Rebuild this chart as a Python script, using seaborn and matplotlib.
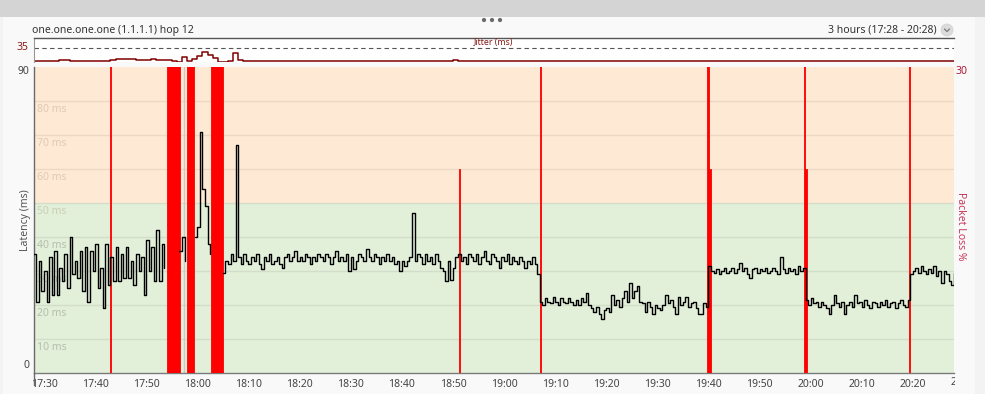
import numpy as np
import pandas as pd
import matplotlib
matplotlib.use("Agg")
import matplotlib.pyplot as plt
from matplotlib.patches import Rectangle, Ellipse
from matplotlib.lines import Line2D
from matplotlib.transforms import Bbox, blended_transform_factory
import seaborn as sns

# ------------------------------------------------------------------ data
# time axis: minutes after 17:28, latency samples every 0.5 min
SAMPLE_MIN = 0.5
X_MAX = 180
LAT_MAX = 90
LOSS_MAX = 30
ZONE_SPLIT = 50

seg_a_start = 0.0
seg_a = [35, 21, 33, 24, 30, 21, 34, 23, 36, 23, 31, 27, 35, 25, 40, 29, 33, 28, 36, 24,
         37, 21, 36, 30, 38, 25, 31, 19, 38, 26, 34, 27, 37, 27, 35, 28, 37, 28, 33, 26,
         35, 30, 34, 23, 39, 30, 37, 27, 42, 27, 38, 31]
seg_b_start = 28.5
seg_b = [36, 40, 33]
seg_c_start = 31.5
seg_c = [40, 43, 71, 54, 49, 38, 35]
seg_d1_start = 37.0
seg_d1 = [29.5, 33, 32, 35, 33, 67, 34, 32, 35, 33,
          32, 34, 33, 35, 32, 30.5, 34, 33, 35, 32,
          33, 34, 32, 31, 34, 35, 33, 34, 36, 33,
          34, 33, 35, 34, 32, 34, 33, 35, 34, 33,
          35, 34, 32, 34, 36, 33, 34, 33, 35, 30,
          34, 30.5, 33, 35, 34, 33, 36.5, 34, 33, 35,
          34, 32, 34, 33, 35, 33, 34, 32, 33, 30,
          33, 31.5, 33, 34, 47, 33, 35, 34, 32, 35,
          33, 34, 32, 35, 33, 31, 30, 27, 33, 27.5,
          31, 34, 35, 33, 34, 32, 35, 34, 33, 35,
          32, 34, 36, 33, 32, 35, 34, 33, 31, 34,
          33, 35, 32, 34, 33, 32, 34, 33, 31, 33,
          32, 34, 32, 29]
seg_d2_start = 99.0
seg_d2 = [21, 20, 22, 21, 20.5, 22.5, 21, 20, 22, 21,
          20.5, 22, 21, 20, 21.5, 20, 22, 21, 23.5, 20,
          19, 18, 19.5, 17.5, 16, 18.5, 19, 18, 23, 20,
          21.5, 19.5, 22, 24, 21, 26.5, 22, 24, 25.5, 21,
          20.5, 18, 21, 19.5, 17.5, 20, 19, 18.5, 20, 23,
          20.5, 21.5, 19.5, 17.5, 22.5, 20, 21, 22.5, 19.5, 20.5,
          21, 19, 17.5, 17.5, 20.5, 19.5]
seg_d3_start = 132.0
seg_d3 = [31.5, 30, 29.5, 30.5, 29, 30, 31, 29.5, 30, 31,
          29.5, 30.5, 32.5, 30, 31, 29, 28, 30.5, 31, 29.5,
          30.5, 30, 31, 29.5, 30, 31, 30, 29, 34, 30.5,
          29.5, 31, 30, 30.5, 29, 31.5, 30, 31]
seg_d4_start = 151.0
seg_d4 = [21.5, 20, 22, 20.5, 21, 19.5, 21, 20, 19, 17.5,
          20, 23, 20.5, 19.5, 21, 17.5, 20, 21, 19.5, 23,
          20.5, 21, 19.5, 21.5, 20, 19, 21, 20.5, 19.5, 21,
          20, 21.5, 19.5, 20.5, 21, 19, 20.5, 21.5, 20, 19.5,
          21.5]
seg_d5_start = 171.5
seg_d5 = [29, 30, 31, 29.5, 31.5, 30, 29, 30.5, 29.5, 31.5,
          28.5, 30, 26.5, 30, 29, 27, 26, 29.5]

jitter_start = 0.0
jitter_step = 1.0
jitter = [2, 2, 1.5, 2, 3, 4, 4, 2, 1.5, 2,
          2, 3, 2, 2, 2.5, 5, 8, 8, 7, 8,
          6, 5, 6, 7, 5, 6, 4, 2, 1, 13,
          2, 8, 14, 26, 18, 10, 0.5, 1, 2, 23,
          6, 2, 1.5, 2, 2, 2, 2.5, 2, 2, 1.5,
          2, 2, 2, 2.5, 2, 2, 2, 2, 2, 2,
          2, 1.5, 2, 2, 2.5, 2, 2, 1.5, 2, 2,
          2, 2, 2.5, 2, 2, 3, 2, 2, 1.5, 2,
          2, 3, 4, 2, 2, 2, 1.5, 2, 2, 2,
          2, 2, 1.5, 2, 2, 2, 2.5, 2, 2, 3,
          2, 2, 2, 1.5, 2, 2, 2, 2.5, 2, 2,
          2, 2, 2, 2, 2, 1.5, 2, 2, 2, 2,
          2.5, 2, 2, 2, 1.5, 2, 2, 2, 2, 2,
          2, 2.5, 2, 2, 2, 2, 1.5, 2, 2, 2,
          2, 2, 2, 2.5, 2, 2, 2, 1.5, 2, 2,
          2.5, 2, 2, 2, 2, 2, 1.5, 2, 2, 2,
          2, 2, 2.5, 2, 2, 2, 2, 1.5, 2, 2,
          2, 2.5, 2, 2, 2, 2, 2, 1.5, 2, 2, 2]
JITTER_MAX = 60
jitter_ref = 35

loss_start = [14.85, 26.06, 30.0, 34.65, 83.15, 98.95, 131.8, 132.15, 150.6, 150.9, 171.15]
loss_width = [0.35, 2.55, 1.35, 2.35, 0.3, 0.3, 0.35, 0.3, 0.3, 0.3, 0.3]
loss_pct = [100, 100, 100, 100, 20, 100, 100, 20, 100, 20, 100]
gap_marks = [29.3]

tick_minutes = [2, 12, 22, 32, 42, 52, 62, 72, 82, 92, 102, 112, 122, 132, 142, 152, 162, 172]
tick_labels = ["17:30", "17:40", "17:50", "18:00", "18:10", "18:20", "18:30", "18:40", "18:50",
               "19:00", "19:10", "19:20", "19:30", "19:40", "19:50", "20:00", "20:10", "20:20"]
clipped_tick_minute = 182
clipped_tick_label = "20:30"
grid_ms = [10, 20, 30, 40, 50, 60, 70, 80]

title = "one.one.one.one (1.1.1.1) hop 12"
range_text = "3 hours (17:28 - 20:28)"

# ------------------------------------------------------------------ frame
segments = [(seg_a_start, seg_a, 0), (seg_b_start, seg_b, 1), (seg_c_start, seg_c, 2),
            (seg_d1_start, seg_d1, 3), (seg_d2_start, seg_d2, 3), (seg_d3_start, seg_d3, 3),
            (seg_d4_start, seg_d4, 3), (seg_d5_start, seg_d5, 3)]
rows = []
for start, vals, unit in segments:
    for k, v in enumerate(vals):
        rows.append((start + k * SAMPLE_MIN, v, unit))
lat_df = pd.DataFrame(rows, columns=["minute", "ms", "unit"])
jit_df = pd.DataFrame({"minute": [jitter_start + k * jitter_step for k in range(len(jitter))],
                       "jitter": jitter})

sns.set_theme(style="white")
plt.rcParams["font.family"] = ["Noto Sans", "DejaVu Sans"]

W, H = 985, 394
fig = plt.figure(figsize=(W / 100, H / 100), dpi=100, facecolor="#f3f3f3")


def fx(x):
    return x / W


def fy(y):
    return 1 - y / H


# header / panel background (behind axes)
fig.patches.append(Rectangle((0, fy(16.5)), 1, 16.5 / H, transform=fig.transFigure,
                             facecolor="#d4d4d4", edgecolor="none", zorder=-5))
fig.patches.append(Rectangle((fx(3), fy(394)), (975 - 3) / W, (394 - 16.5) / H, transform=fig.transFigure,
                             facecolor="#f9f9f9", edgecolor="none", zorder=-5))
for dx in (484, 492, 500):
    fig.patches.append(Ellipse((fx(dx), fy(20)), 4.2 / W, 4.2 / H, transform=fig.transFigure,
                               facecolor="#6a6a6a", edgecolor="none"))
fig.text(fx(32), fy(30), title, ha="left", va="center", fontsize=7.5, color="#333333")
fig.text(fx(937), fy(30), range_text, ha="right", va="center", fontsize=7.5, color="#333333")
fig.patches.append(Ellipse((fx(947), fy(30)), 12 / W, 12 / H, transform=fig.transFigure,
                           facecolor="#dcdcdc", edgecolor="#cfcfcf", lw=0.5))
fig.lines.append(Line2D([fx(944.5), fx(947), fx(949.5)], [fy(29), fy(31.5), fy(29)],
                        transform=fig.transFigure, color="#7a7a7a", lw=0.9))

AX_L, AX_R = 33.8, 953.8
# jitter panel
axj = fig.add_axes([fx(AX_L), fy(62), (AX_R - AX_L) / W, 24 / H])
axj.set_facecolor("white")
sns.lineplot(data=jit_df, x="minute", y="jitter", drawstyle="steps-post", color="#800000",
             linewidth=1.1, ax=axj, legend=False)
axj.axhline(jitter_ref, color="#555555", lw=0.8, dashes=(4, 3))
axj.set_xlim(0, X_MAX)
axj.set_ylim(0, JITTER_MAX)
axj.set_xticks([])
axj.set_yticks([])
axj.set_xlabel("")
axj.set_ylabel("")
for s in ["right", "bottom"]:
    axj.spines[s].set_visible(False)
axj.spines["top"].set_color("#555555")
axj.spines["top"].set_linewidth(1.0)
axj.spines["left"].set_color("#999999")
axj.spines["left"].set_linewidth(0.8)
axj.text(0.5, 0.8, "Jitter (ms)", transform=axj.transAxes, ha="center", va="center",
         fontsize=6.3, color="#8b1a1a")
fig.text(fx(28.5), fy(47.5), str(jitter_ref), ha="right", va="center", fontsize=7.5, color="#8b1a1a")

# main panel: background axis (latency scale)
ax = fig.add_axes([fx(AX_L), fy(373), (AX_R - AX_L) / W, 306 / H])
ax.axhspan(0, ZONE_SPLIT, color="#e2efd9", lw=0, zorder=0)
ax.axhspan(ZONE_SPLIT, LAT_MAX, color="#fde9d4", lw=0, zorder=0)
for v in grid_ms:
    ax.axhline(v, color="black", alpha=0.07, lw=1.0, zorder=1)
    if v < ZONE_SPLIT:
        ax.text(0.6, v - 0.9, f"{v} ms", ha="left", va="top", fontsize=7.5, color="black", alpha=0.2, zorder=2)
    else:
        ax.text(0.6, v - 0.9, f"{v} ms", ha="left", va="top", fontsize=7.5, color="#7a5a3a", alpha=0.22, zorder=2)
for g in gap_marks:
    ax.axvline(g, color="#c9c9c9", lw=1.0, zorder=2)
ax.set_xlim(0, X_MAX)
ax.set_ylim(0, LAT_MAX)
ax.set_yticks([])
ax.set_xticks(tick_minutes, tick_labels)
ax.tick_params(axis="x", length=3, width=0.8, color="#777777", labelsize=7.5, labelcolor="#444444", pad=1.5)
for s in ["top", "right"]:
    ax.spines[s].set_visible(False)
ax.spines["bottom"].set_color("#7a7a7a")
ax.spines["bottom"].set_linewidth(1.0)
ax.spines["left"].set_color("#6a6a6a")
ax.spines["left"].set_linewidth(1.0)
fig.lines.append(Line2D([fx(AX_L), fx(AX_L)], [fy(373), fy(385)], transform=fig.transFigure,
                        color="#6a6a6a", lw=1.0))

tt = ax.text(clipped_tick_minute, -0.0147, clipped_tick_label,
             transform=blended_transform_factory(ax.transData, ax.transAxes),
             ha="center", va="top", fontsize=7.5, color="#444444", clip_on=True)
tt.set_clip_box(Bbox.from_extents(0, 0, 955, H))

# packet loss axis
ax_loss = ax.twinx()
ax_loss.bar(loss_start, loss_pct, width=loss_width, align="edge", color="#ff0000",
            edgecolor="#ff0000", lw=0.6, zorder=3)
ax_loss.set_ylim(0, LOSS_MAX)
ax_loss.set_yticks([])
for s in ax_loss.spines.values():
    s.set_visible(False)

# latency line axis
ax_top = ax.twinx()
sns.lineplot(data=lat_df, x="minute", y="ms", units="unit", estimator=None, drawstyle="steps-post",
             color="black", linewidth=1.0, ax=ax_top, legend=False)
ax_top.set_ylim(0, LAT_MAX)
ax_top.set_xlim(0, X_MAX)
ax_top.set_yticks([])
ax_top.set_ylabel("")
for s in ax_top.spines.values():
    s.set_visible(False)

# axis texts
fig.text(fx(29.5), fy(71), str(LAT_MAX), ha="right", va="center", fontsize=7.5, color="#444444")
fig.text(fx(29), fy(366), "0", ha="right", va="center", fontsize=7.5, color="#444444")
fig.text(fx(25.5), fy(220), "Latency (ms)", rotation=90, ha="center", va="center", fontsize=7.5, color="#555555")
fig.text(fx(955), fy(71), str(LOSS_MAX), ha="left", va="center", fontsize=7.5, color="#b01838")
fig.text(fx(960), fy(226), "Packet Loss %", rotation=270, ha="center", va="center", fontsize=7.5, color="#c8385a")

fig.savefig("out.png", dpi=100, facecolor=fig.get_facecolor())
